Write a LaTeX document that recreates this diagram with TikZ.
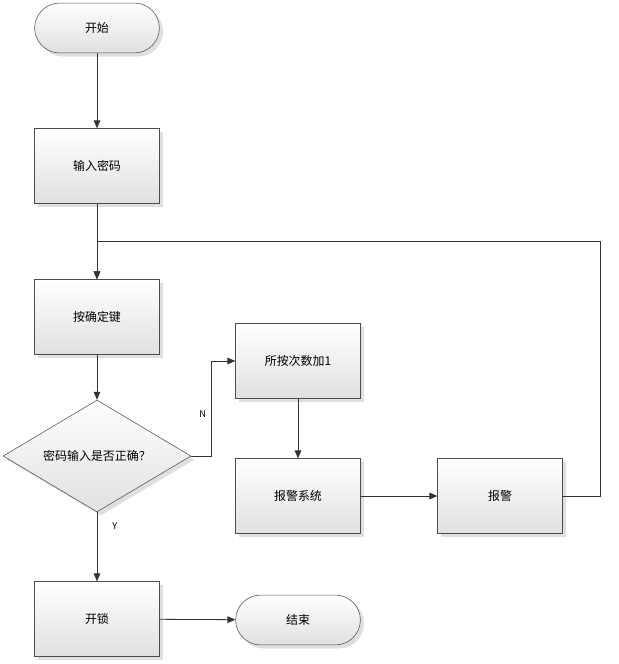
\documentclass[tikz,border=0pt]{standalone}
\usepackage{fontspec}
\setmainfont{Noto Sans CJK SC}
\usetikzlibrary{arrows.meta,positioning,shapes.geometric,shadows}

\tikzset{
    procbox/.style={draw=black!70, minimum width=3.3cm, minimum height=1.98cm,
        top color=white, bottom color=black!12, drop shadow={opacity=0.25},
        font=\small},
    termbox/.style={procbox, rounded corners=0.66cm, minimum height=1.32cm},
    testbox/.style={diamond, draw=black!70, aspect=1.68, inner sep=1pt,
        minimum width=4.97cm, minimum height=2.96cm,
        top color=white, bottom color=black!12, drop shadow={opacity=0.25}, font=\small},
    flow/.style={draw=black!80, semithick, -{Triangle[length=6pt,width=5pt]}}
}

\begin{document}
\begin{tikzpicture}[x=0.02646cm, y=-0.02646cm]
    \useasboundingbox (0,0) rectangle (618,664);

    % main column
    \node[termbox] (start) at (97,28) {开始};
    \node[procbox] (input) at (97,166) {输入密码};
    \node[procbox] (press) at (97,317) {按确定键};
    \node[testbox] (check) at (97,456) {密码输入是否正确？};
    \node[procbox] (unlock) at (97,619) {开锁};
    \node[termbox] (finish) at (298,620) {结束};

    % wrong password branch
    \node[procbox] (count) at (298,361) {所按次数加1};
    \node[procbox] (sys) at (298,496) {报警系统};
    \node[procbox] (alarm) at (500,496) {报警};

    \coordinate (join) at (97,241);
    \coordinate (nbend) at (211,456);

    % connectors
    \draw[flow] (start) -- (input);
    \draw[flow] (input) -- (press);
    \draw[flow] (press) -- (check);
    \draw[flow] (check) -- node[pos=0.2, right=8pt, font=\scriptsize] {Y} (unlock);
    \draw[flow] (unlock) -- (finish);
    \draw[flow] (check.east) -- (nbend) |- node[pos=0.22, left, font=\scriptsize] {N} (count.west);
    \draw[flow] (count) -- (sys);
    \draw[flow] (sys) -- (alarm);
    \draw[flow] (alarm.east) -- ++(38,0) |- (join) -- (press);
\end{tikzpicture}
\end{document}
